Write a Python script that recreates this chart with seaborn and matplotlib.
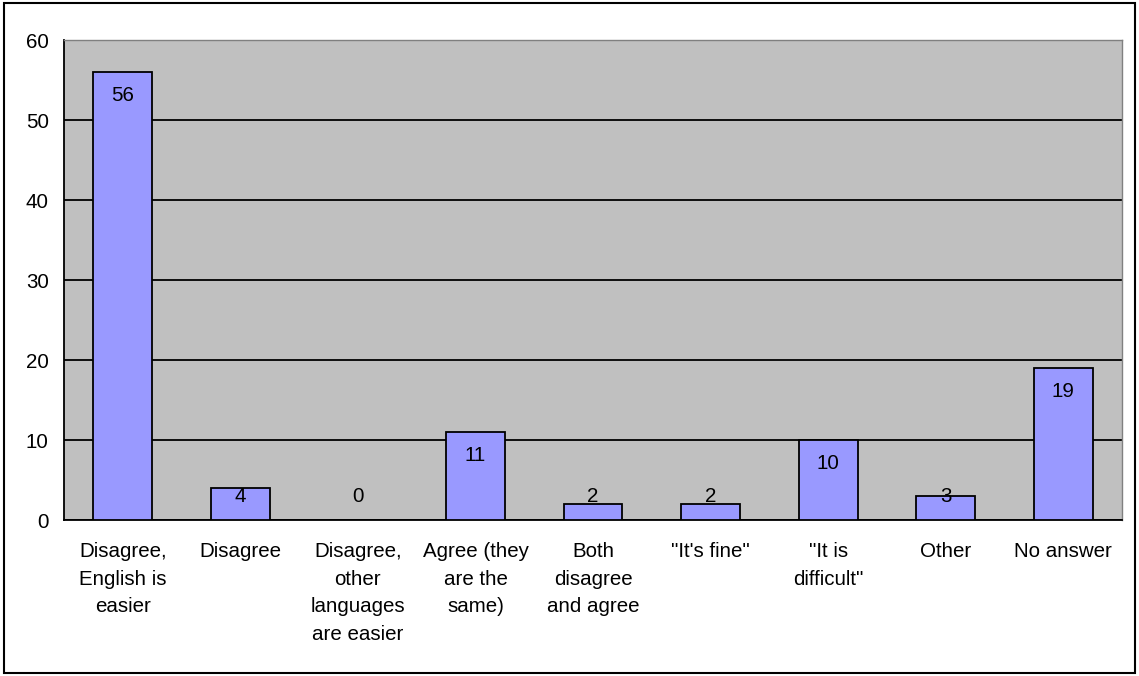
import numpy as np
import matplotlib
matplotlib.use("Agg")
import matplotlib.pyplot as plt
import seaborn as sns
import pandas as pd
from matplotlib.patches import Rectangle

categories = [
    "Disagree,\nEnglish is\neasier",
    "Disagree",
    "Disagree,\nother\nlanguages\nare easier",
    "Agree (they\nare the\nsame)",
    "Both\ndisagree\nand agree",
    "\"It's fine\"",
    "\"It is\ndifficult\"",
    "Other",
    "No answer",
]
counts = [56, 4, 0, 11, 2, 2, 10, 3, 19]
y_ticks = [0, 10, 20, 30, 40, 50, 60]

sns.set_theme(style="white")
plt.rcParams["font.family"] = ["Liberation Sans", "DejaVu Sans"]

df = pd.DataFrame({"category": categories, "count": counts})

fig = plt.figure(figsize=(11.39, 6.76), dpi=100)
ax = fig.add_axes([64 / 1139, 1 - 520 / 676, 1058 / 1139, 480 / 676])
ax.set_facecolor("#C0C0C0")

sns.barplot(data=df, x="category", y="count", color="#9999FF",
            edgecolor="black", linewidth=1.3, width=0.5, saturation=1,
            ax=ax, zorder=3)

fs = 14.8
ax.set_ylim(0, 60)
ax.set_xlim(-0.5, len(categories) - 0.5)
ax.set_yticks(y_ticks)
ax.set_yticklabels([str(t) for t in y_ticks], fontsize=fs, color="black")
ax.yaxis.grid(True, color="black", linewidth=1.3, zorder=1)
ax.set_axisbelow(True)

ax.set_xticks(range(len(categories)))
ax.set_xticklabels(categories, fontsize=fs, linespacing=1.57, va="top",
                   color="black")
ax.set_xticks(np.arange(-0.5, len(categories), 1), minor=True)
ax.tick_params(axis="x", which="major", length=0, pad=16)
ax.tick_params(axis="x", which="minor", length=6, width=1.3,
               color="black", direction="out")
ax.tick_params(axis="y", length=6, width=1.3, color="black",
               direction="out", pad=5)
ax.set_xlabel("")
ax.set_ylabel("")

for side in ["left", "bottom"]:
    ax.spines[side].set_color("black")
    ax.spines[side].set_linewidth(1.3)
for side in ["top", "right"]:
    ax.spines[side].set_color("#808080")
    ax.spines[side].set_linewidth(1.0)

# value labels just inside the top of each bar, kept above the axis
for i, v in enumerate(counts):
    y = max(v - 2.9, 3.0)
    ax.text(i, y, str(v), ha="center", va="center", fontsize=fs,
            color="black", zorder=5)

# outer chart frame
fig.patches.append(Rectangle((4 / 1139, 3 / 676), 1131 / 1139, 670 / 676,
                             transform=fig.transFigure, fill=False,
                             edgecolor="black", linewidth=1.5))

fig.savefig("out.png", dpi=100, facecolor="white")
